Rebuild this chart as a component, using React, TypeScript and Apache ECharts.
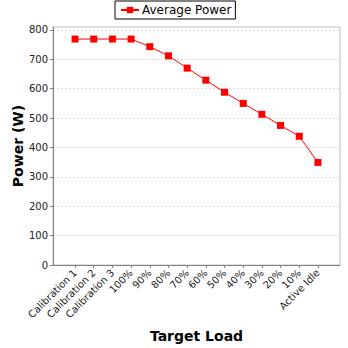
import React, { useEffect, useRef } from "react";
import * as echarts from "echarts";

const categories = [
  "Calibration 1", "Calibration 2", "Calibration 3", "100%", "90%", "80%", "70%",
  "60%", "50%", "40%", "30%", "20%", "10%", "Active Idle",
];
const averagePower = [769, 769, 769, 769, 743, 712, 670, 629, 588, 550, 513, 475, 438, 349];
const yTicks = [0, 100, 200, 300, 400, 500, 600, 700, 800];

export default function App() {
  const ref = useRef<HTMLDivElement>(null);
  useEffect(() => {
    const chart = echarts.init(ref.current!, null, { renderer: "svg" });
    const idx = categories.map((_, i) => i);
    const margin = 1.18;
    chart.setOption({
      animation: false,
      backgroundColor: "#ffffff",
      textStyle: { fontFamily: "DejaVu Sans" },
      legend: {
        top: 1,
        left: 115,
        padding: [3, 4, 3, 5],
        borderColor: "#000000",
        borderWidth: 1,
        itemWidth: 18,
        itemHeight: 8,
        itemGap: 4,
        textStyle: { fontSize: 12, color: "#000", fontFamily: "DejaVu Sans", padding: [0, 0, 0, -2] },
        data: ["Average Power"],
      },
      grid: {
        left: 53,
        top: 27,
        right: 8,
        bottom: 83,
        show: true,
        borderColor: "#c0c0c0",
        borderWidth: 1,
        backgroundColor: "#ffffff",
      },
      xAxis: {
        type: "value",
        min: -margin,
        max: categories.length - 1 + margin,
        name: "Target Load",
        nameLocation: "middle",
        nameGap: 64,
        nameMoveOverlap: false,
        nameTextStyle: { fontSize: 14, fontWeight: "bold", color: "#000", fontFamily: "DejaVu Sans" },
        axisLine: { onZero: false, lineStyle: { color: "#808080" } },
        axisTick: { show: true, length: 3, customValues: idx, lineStyle: { color: "#808080" } },
        axisLabel: {
          customValues: idx,
          rotate: 45,
          fontSize: 10,
          color: "#222",
          margin: 6,
          fontFamily: "DejaVu Sans",
          formatter: (v: number) => categories[Math.round(v)] ?? "",
        },
        splitLine: { show: false },
      },
      yAxis: {
        type: "value",
        min: 0,
        max: 810,
        name: "Power (W)",
        nameLocation: "middle",
        nameGap: 28,
        nameMoveOverlap: false,
        nameTextStyle: { fontSize: 14, fontWeight: "bold", color: "#000", fontFamily: "DejaVu Sans" },
        axisLine: { show: true, onZero: false, lineStyle: { color: "#808080" } },
        axisTick: { show: true, length: 3, customValues: yTicks, lineStyle: { color: "#808080" } },
        axisLabel: { customValues: yTicks, fontSize: 10, color: "#222", margin: 5, fontFamily: "DejaVu Sans" },
        splitLine: { show: true, lineStyle: { color: "#dddddd", type: [2, 2] } },
      },
      series: [
        {
          name: "Average Power",
          type: "line",
          data: averagePower.map((v, i) => [i, v]),
          symbol: "rect",
          symbolSize: 7,
          itemStyle: { color: "#ff0000" },
          lineStyle: { color: "#ff0000", width: 1 },
        },
      ],
    });
    return () => chart.dispose();
  }, []);
  return <div ref={ref} style={{ width: 348, height: 348, position: "absolute", left: 0, top: 0 }} />;
}
